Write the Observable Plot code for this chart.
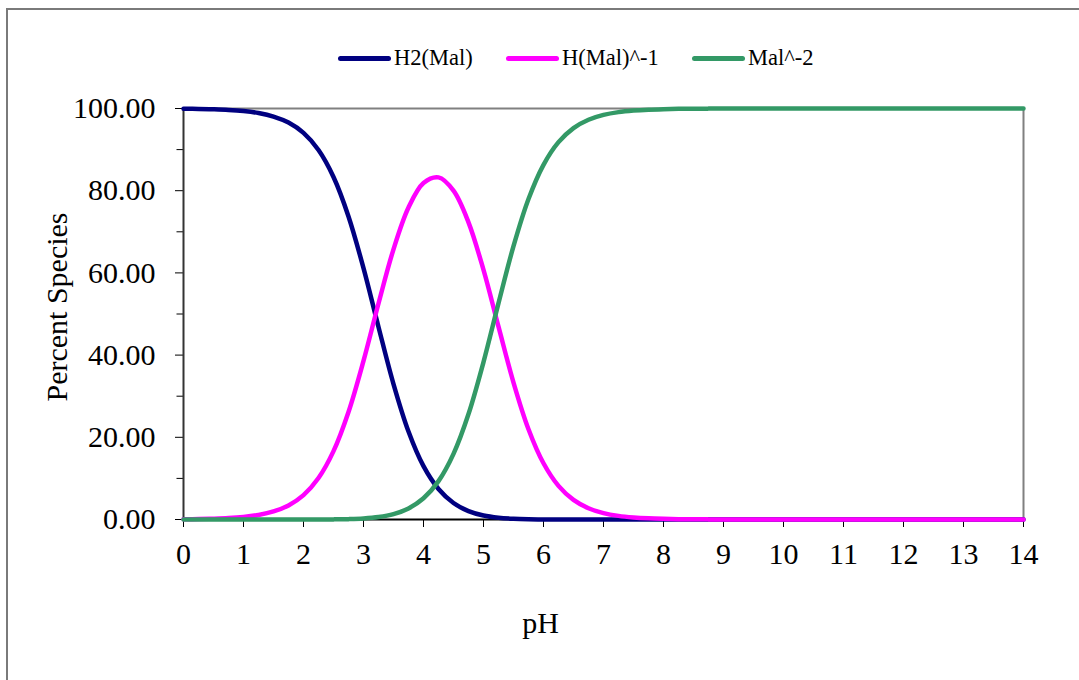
<!DOCTYPE html>
<html>
<head>
<meta charset="utf-8">
<script src="https://cdn.jsdelivr.net/npm/d3@7"></script>
<script src="https://cdn.jsdelivr.net/npm/@observablehq/plot@0.6"></script>
<style>
  body { margin: 0; background: #fff; }
  #wrap { position: relative; width: 1079px; height: 680px; overflow: hidden; font-family: "Liberation Serif", "Times New Roman", serif; }
  #frame { position: absolute; left: 6px; top: 8px; width: 1200px; height: 800px; border: 2px solid #7a7a7a; pointer-events: none; }
  .leg { position: absolute; top: 44px; display: flex; align-items: center; height: 28px; font-size: 22.5px; color: #000; white-space: nowrap; font-family: "Liberation Serif", "Times New Roman", serif; }
  .leg .swatch { display: inline-block; width: 53px; height: 5px; border-radius: 3px; margin-right: 3px; }
</style>
</head>
<body>
<div id="wrap"></div>
<script>
// Malonic acid speciation versus pH (percent of total)
const pH = [
  0, 0.25, 0.5, 0.75, 1, 1.25, 1.5, 1.75, 2, 2.25, 2.5, 2.75, 3, 3.25, 3.5, 3.75,
  4, 4.25, 4.5, 4.75, 5, 5.25, 5.5, 5.75, 6, 6.25, 6.5, 6.75, 7, 7.25, 7.5, 7.75,
  8, 8.25, 8.5, 8.75, 9, 9.5, 10, 10.5, 11, 11.5, 12, 12.5, 13, 13.5, 14
];
const h2Mal = [
  99.94, 99.89, 99.80, 99.65, 99.37, 98.89, 98.04, 96.57, 94.06, 89.90, 83.34, 73.74, 61.16, 46.85, 32.95, 21.40,
  12.97, 7.42, 4.01, 2.04, 0.96, 0.42, 0.17, 0.06, 0.02, 0.01, 0, 0, 0, 0, 0, 0,
  0, 0, 0, 0, 0, 0, 0, 0, 0, 0, 0, 0, 0, 0, 0
];
const hMal = [
  0.06, 0.11, 0.20, 0.35, 0.63, 1.11, 1.96, 3.43, 5.94, 10.09, 16.63, 26.16, 38.59, 52.56, 65.74, 75.91,
  81.86, 83.24, 80.02, 72.31, 60.72, 46.93, 33.33, 21.97, 13.68, 8.18, 4.77, 2.74, 1.56, 0.88, 0.50, 0.28,
  0.16, 0.09, 0.05, 0.03, 0.02, 0.01, 0, 0, 0, 0, 0, 0, 0, 0, 0
];
const mal = [
  0, 0, 0, 0, 0, 0, 0, 0, 0, 0.01, 0.03, 0.09, 0.24, 0.59, 1.31, 2.69,
  5.16, 9.34, 15.97, 25.66, 38.31, 52.65, 66.50, 77.97, 86.30, 91.81, 95.23, 97.26, 98.44, 99.12, 99.50, 99.72,
  99.84, 99.91, 99.95, 99.97, 99.98, 99.99, 100, 100, 100, 100, 100, 100, 100, 100, 100
];
const species = ["H2(Mal)", "H(Mal)^-1", "Mal^-2"];
const colors = ["#000080", "#ff00ff", "#339966"];
const xTicks = d3.range(0, 15);
const yMajor = [0, 20, 40, 60, 80, 100];
const yMinor = [10, 30, 50, 70, 90];

const seriesValues = [h2Mal, hMal, mal];
const rows = [];
species.forEach((s, k) => {
  pH.forEach((x, i) => rows.push({pH: x, pct: seriesValues[k][i], species: s}));
});

const chart = Plot.plot({
  width: 1079,
  height: 680,
  marginLeft: 183,
  marginRight: 56,
  marginTop: 108,
  marginBottom: 161,
  style: {fontFamily: "'Liberation Serif', 'Times New Roman', serif", background: "transparent", color: "#000", overflow: "visible"},
  x: {domain: [0, 14]},
  y: {domain: [0, 100]},
  color: {domain: species, range: colors},
  marks: [
    // plot-area border: grey top and right, black axes left and bottom
    Plot.ruleY([100], {stroke: "#808080", strokeWidth: 2}),
    Plot.ruleX([14], {stroke: "#808080", strokeWidth: 2}),
    Plot.axisY({ticks: yMajor, tickFormat: d3.format(".2f"), tickSize: 8, tickPadding: 20, fontSize: 30, label: null, stroke: "#000"}),
    Plot.axisY({ticks: yMinor, tickFormat: () => "", tickSize: 6.5, label: null, stroke: "#000"}),
    Plot.axisX({ticks: xTicks, tickFormat: d3.format("d"), tickSize: 8, tickPadding: 15, fontSize: 30, label: null, stroke: "#000"}),
    Plot.ruleX([0], {stroke: "#333", strokeWidth: 2}),
    Plot.ruleY([0], {stroke: "#000", strokeWidth: 2}),
    Plot.line(rows, {x: "pH", y: "pct", z: "species", stroke: "species", strokeWidth: 4.5, curve: "catmull-rom"}),
    Plot.text(["Percent Species"], {frameAnchor: "left", textAnchor: "middle", lineAnchor: "middle", rotate: -90, dx: -126, dy: -7, fontSize: 30, fill: "#000"}),
    Plot.text(["pH"], {frameAnchor: "bottom", textAnchor: "middle", lineAnchor: "middle", dx: -63, dy: 104, fontSize: 30, fill: "#000"})
  ]
});

const wrap = document.getElementById("wrap");
wrap.appendChild(chart);

// legend row above the plot
const legendLeft = [338, 506, 692];
species.forEach((s, k) => {
  const item = document.createElement("div");
  item.className = "leg";
  item.style.left = legendLeft[k] + "px";
  const sw = document.createElement("span");
  sw.className = "swatch";
  sw.style.background = colors[k];
  const label = document.createElement("span");
  label.textContent = s;
  item.appendChild(sw);
  item.appendChild(label);
  wrap.appendChild(item);
});

const frame = document.createElement("div");
frame.id = "frame";
wrap.appendChild(frame);
</script>
</body>
</html>
